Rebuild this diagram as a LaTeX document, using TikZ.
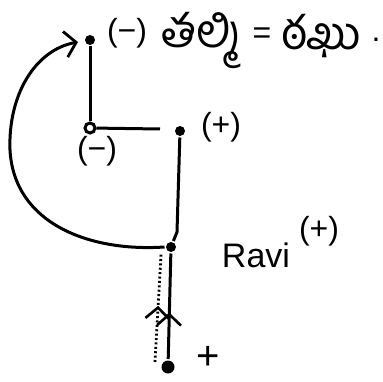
\documentclass[tikz,border=0pt]{standalone}
\usepackage{fontspec}
\setmainfont{Liberation Sans}
\newfontfamily\telugu[Script=Telugu]{Hind Guntur}
\usetikzlibrary{arrows.meta,decorations.markings}
\begin{document}
\begin{tikzpicture}[x=1pt,y=-1pt,
  line width=3pt,
  dotn/.style={circle,fill=black,inner sep=0pt,minimum size=#1},
  dotn/.default=10pt,
  opendot/.style={circle,draw=black,fill=white,line width=3pt,inner sep=0pt,minimum size=10pt},
  lbl/.style={inner sep=0pt,font=\fontsize{32}{34}\selectfont},
  tel/.style={inner sep=0pt,font=\telugu\fontsize{46}{48}\selectfont},
  midup/.style={postaction={decorate},decoration={markings,mark=at position #1 with {\arrow{Straight Barb[length=11pt,width=24pt,line width=2.6pt]}}}}
]
\useasboundingbox (0,0) rectangle (382,382);
% nodes
\node[dotn] (top) at (90,40) {};
\node[opendot] (mid) at (90,128) {};
\coordinate (hend) at (160,129);
\node[dotn] (plus1) at (180,131) {};
\node[dotn] (ravi) at (171,247) {};
\node[dotn=13pt] (bot) at (168,367) {};
\coordinate (dtop) at (161,254);
\coordinate (dbot) at (155,362);
% lines
\draw (top) -- (mid);
\draw (mid) -- (hend);
\draw (plus1) -- (177,232) -- (ravi);
\draw[midup=0.44] (bot) -- (ravi);
\draw[line width=2.8pt,dash pattern=on 2pt off 2.4pt,midup=0.52] (dbot) -- (dtop);
% curve
\draw[-{Straight Barb[length=11pt,width=26pt,line width=2.8pt]}] (ravi.west) .. controls (90,252) and (14,224) .. (10,150)
  .. controls (8,95) and (35,50) .. (78,42);
% labels
\node[lbl] (tl) at (127,33) {(−)};
\node[tel,anchor=west] (tw) at (160,40) {తల్మి};
\node[lbl] (eq) at (262,36) {=};
\node[tel,anchor=west] (tw2) at (280,36) {ఠఖు};
\node[lbl] (dt) at (376,40) {.};
\node[lbl] (ml) at (97,151) {(−)};
\node[lbl] (pl) at (221,127) {(+)};
\node[inner sep=0pt,font=\fontsize{34}{36}\selectfont] (rv) at (256,255) {Ravi};
\node[lbl] (rp) at (319,231) {(+)};
\node[inner sep=0pt,font=\fontsize{40}{42}\selectfont] (bp) at (208,358) {+};
\end{tikzpicture}
\end{document}
